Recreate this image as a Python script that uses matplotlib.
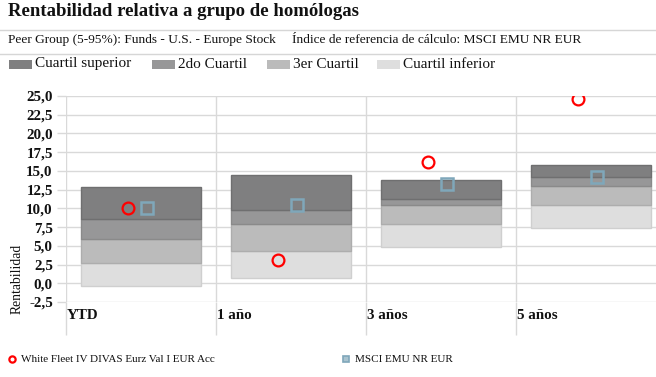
import matplotlib
matplotlib.use("Agg")
import matplotlib.pyplot as plt
from matplotlib.lines import Line2D
from matplotlib.patches import Rectangle
import numpy as np

categories = ["YTD", "1 año", "3 años", "5 años"]
p5 = [-0.35, 0.67, 4.9, 7.35]
p25 = [2.7, 4.27, 7.9, 10.4]
p50 = [5.95, 7.95, 10.4, 12.95]
p75 = [8.55, 9.8, 11.3, 14.2]
p95 = [12.8, 14.4, 13.75, 15.75]
fund = [10.1, 3.1, 16.2, 24.6]
index_vals = [10.0, 10.4, 13.3, 14.15]
yticks = [-2.5, 0, 2.5, 5, 7.5, 10, 12.5, 15, 17.5, 20, 22.5, 25]

quart_names = ["Cuartil superior", "2do Cuartil", "3er Cuartil", "Cuartil inferior"]
quart_colors = ["#7f7f80", "#979798", "#bbbbbb", "#dedede"]
edge_colors = ["#6f6f70", "#8a8a8a", "#adadad", "#cfcfcf"]

SERIF = ["Liberation Serif", "DejaVu Serif"]
plt.rcParams["font.family"] = SERIF

W, H = 656, 377
fig = plt.figure(figsize=(W / 100, H / 100), dpi=100)

def fx(px):
    return px / W

def fy(py):
    return 1 - py / H

# Header
fig.text(fx(8), fy(12), "Rentabilidad relativa a grupo de homólogas", fontsize=13.5,
         fontweight="bold", va="center", ha="left", color="#111111")
fig.add_artist(Line2D([0, 1], [fy(29.5), fy(29.5)], color="#d6d6d6", lw=1))
fig.text(fx(8), fy(40), "Peer Group (5-95%): Funds - U.S. - Europe Stock", fontsize=9.6,
         va="center", ha="left", color="#111111")
fig.text(fx(292), fy(40), "Índice de referencia de cálculo: MSCI EMU NR EUR", fontsize=9.65,
         va="center", ha="left", color="#111111")
fig.add_artist(Line2D([0, 1], [fy(54), fy(54)], color="#d6d6d6", lw=1))

leg_x = [9, 152, 267, 377]
for lx, name, c in zip(leg_x, quart_names, quart_colors):
    fig.add_artist(Rectangle((fx(lx), fy(68.5)), fx(23), 9 / H, color=c, lw=0))
    fig.text(fx(lx + 26), fy(64), name, fontsize=11, va="center", ha="left", color="#111111")

# Axes
ax = fig.add_axes([fx(66), fy(302), 600 / W, 206 / H])
n = len(categories)
xc = np.arange(n) + 0.5
bw = 0.8
lows = [p5, p25, p50, p75]
highs = [p25, p50, p75, p95]
cols_bottom_up = quart_colors[::-1]
edges_bottom_up = edge_colors[::-1]
for lo, hi, c, e in zip(lows, highs, cols_bottom_up, edges_bottom_up):
    ax.bar(xc, np.array(hi) - np.array(lo), bottom=lo, width=bw, color=c,
           edgecolor=e, linewidth=1, zorder=2)

ax.plot(xc - 0.085, fund, linestyle="none", marker="o", markersize=8.5,
        markerfacecolor="none", markeredgecolor="#ff0000", markeredgewidth=1.6, zorder=4)
ax.plot(xc + 0.04, index_vals, linestyle="none", marker="s", markersize=8.5,
        markerfacecolor="none", markeredgecolor="#7fa7ba", markeredgewidth=1.8, zorder=4)

ax.set_xlim(0, n)
ax.set_ylim(-2.5, 25)
ax.set_yticks(yticks)
ax.set_yticklabels([f"{v:.1f}".replace(".", ",") for v in yticks],
                   fontweight="bold", fontsize=10.8)
ax.set_xticks(np.arange(n))
ax.set_xticklabels([])
ax.tick_params(axis="y", length=6.5, color="#d9d9d9", width=1, pad=3, labelcolor="#111111")
ax.tick_params(axis="x", length=24, color="#d9d9d9", width=1)
ax.grid(True, color="#d9d9d9", linewidth=1, zorder=0)
ax.set_axisbelow(True)
for s in ax.spines.values():
    s.set_visible(False)

for i, cat in enumerate(categories):
    ax.text(i + 0.004, -0.067, cat, transform=ax.get_xaxis_transform(), fontsize=10.8,
            fontweight="bold", ha="left", va="center", color="#111111")

fig.text(fx(17), fy(279), "Rentabilidad", rotation=90, fontsize=9.8, ha="center",
         va="center", color="#111111")

# Bottom legend
fig.add_artist(Line2D([fx(12)], [fy(359)], marker="o", markersize=4.5, linestyle="none",
                      markerfacecolor="white", markeredgecolor="#ff0000", markeredgewidth=1.6))
fig.text(fx(21), fy(359), "White Fleet IV DIVAS Eurz Val I EUR Acc", fontsize=8,
         va="center", ha="left", color="#111111")
fig.add_artist(Line2D([fx(346)], [fy(359)], marker="s", markersize=4.5, linestyle="none",
                      markerfacecolor="#a9c3cf", markeredgecolor="#7fa7ba", markeredgewidth=1.2))
fig.text(fx(355), fy(359), "MSCI EMU NR EUR", fontsize=8,
         va="center", ha="left", color="#111111")

fig.savefig("out.png", dpi=100)
